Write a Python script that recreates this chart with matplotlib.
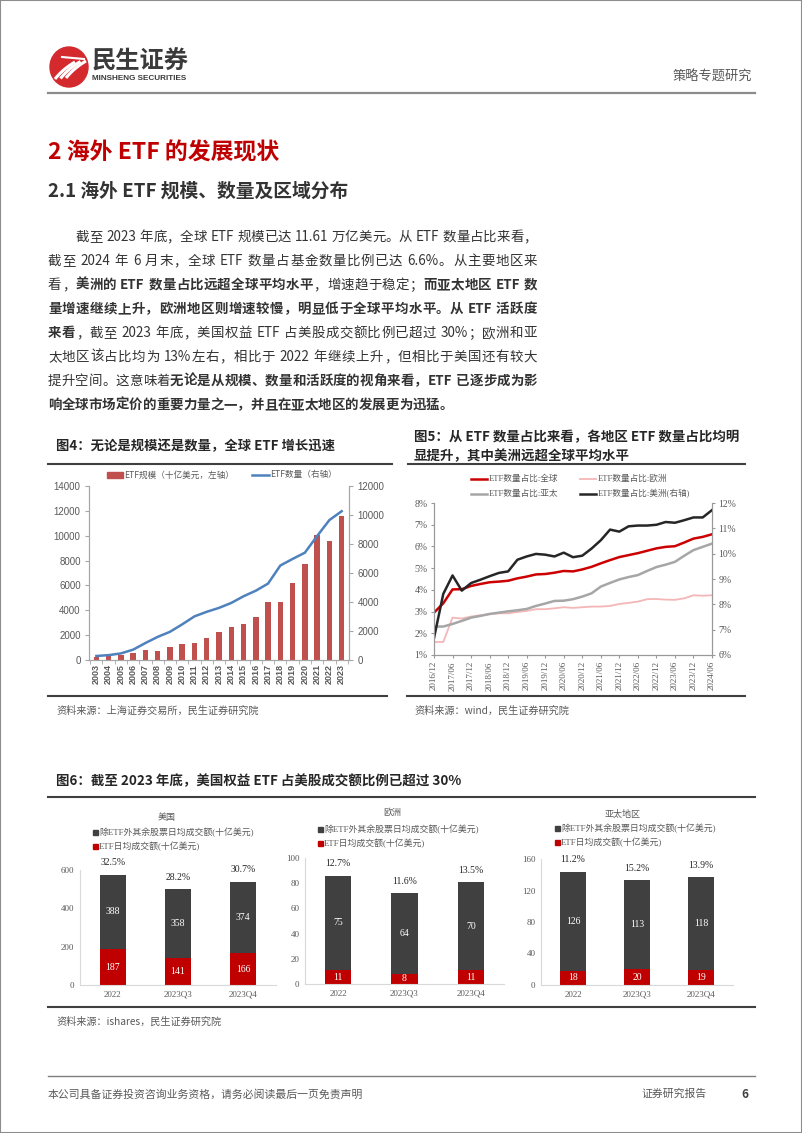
import re
import matplotlib
matplotlib.use('Agg')
import numpy as np
import matplotlib.pyplot as plt
from matplotlib.patches import Ellipse, Rectangle
from matplotlib.lines import Line2D

plt.rcParams['font.family'] = ['Noto Sans CJK SC', 'DejaVu Sans']
SERIF = ['Liberation Serif', 'Noto Sans CJK SC']
SANS = ['Liberation Sans', 'Noto Sans CJK SC']

# ---------------- data ----------------
# fig 4: global ETF size (bn USD, left) and count (right)
years4 = ['2003', '2004', '2005', '2006', '2007', '2008', '2009', '2010', '2011', '2012', '2013',
          '2014', '2015', '2016', '2017', '2018', '2019', '2020', '2021', '2022', '2023']
etf_aum = [212, 310, 417, 580, 807, 716, 1041, 1313, 1355, 1754, 2254,
           2642, 2867, 3423, 4690, 4680, 6180, 7740, 10020, 9540, 11610]
etf_count = [276, 336, 453, 714, 1171, 1595, 1944, 2459, 3009, 3325, 3594,
             3936, 4396, 4779, 5271, 6516, 6970, 7400, 8550, 9650, 10260]

# fig 5: share of ETF in fund count, quarterly 2016/12 - 2024/06
q_labels = ['2016/12', '2017/06', '2017/12', '2018/06', '2018/12', '2019/06', '2019/12', '2020/06',
            '2020/12', '2021/06', '2021/12', '2022/06', '2022/12', '2023/06', '2023/12', '2024/06']
share_global = [2.95, 3.38, 4.02, 4.03, 4.18, 4.27, 4.35, 4.38, 4.42, 4.53, 4.61, 4.71, 4.73, 4.79,
                4.87, 4.85, 4.94, 5.06, 5.22, 5.37, 5.51, 5.60, 5.69, 5.80, 5.91, 5.98, 6.01, 6.18,
                6.36, 6.44, 6.56]
share_europe = [1.60, 1.60, 2.72, 2.68, 2.77, 2.83, 2.88, 2.92, 2.92, 2.98, 3.03, 3.11, 3.11, 3.15,
                3.20, 3.17, 3.20, 3.23, 3.23, 3.26, 3.35, 3.40, 3.46, 3.57, 3.58, 3.55, 3.54, 3.61,
                3.75, 3.73, 3.75]
share_apac = [2.31, 2.31, 2.43, 2.57, 2.72, 2.80, 2.89, 2.95, 3.01, 3.06, 3.12, 3.26, 3.37, 3.49,
              3.50, 3.57, 3.69, 3.84, 4.15, 4.32, 4.48, 4.59, 4.68, 4.87, 5.05, 5.16, 5.29, 5.57,
              5.83, 5.98, 6.13]
share_america = [6.67, 8.41, 9.14, 8.54, 8.84, 8.97, 9.11, 9.24, 9.30, 9.76, 9.89, 9.99, 9.96, 9.89,
                 10.04, 9.86, 9.92, 10.20, 10.53, 10.95, 10.87, 11.08, 11.11, 11.11, 11.14, 11.25,
                 11.22, 11.32, 11.43, 11.43, 11.72]

# fig 6: daily turnover (bn USD)
periods6 = ['2022', '2023Q3', '2023Q4']
us_etf, us_other, us_pct = [187, 141, 166], [388, 358, 374], ['32.5%', '28.2%', '30.7%']
eu_etf, eu_other, eu_pct = [11, 8, 11], [75, 64, 70], ['12.7%', '11.6%', '13.5%']
ap_etf, ap_other, ap_pct = [18, 20, 19], [126, 113, 118], ['11.2%', '15.2%', '13.9%']

body_lines = [
    [('截至 2023 年底，全球 ETF 规模已达 11.61 万亿美元。从 ETF 数量占比来看，', False)],
    [('截至 2024 年 6 月末，全球 ETF 数量占基金数量比例已达 6.6%。从主要地区来', False)],
    [('看，', False), ('美洲的 ETF 数量占比远超全球平均水平', True), ('，增速趋于稳定；', False),
     ('而亚太地区 ETF 数', True)],
    [('量增速继续上升，欧洲地区则增速较慢，明显低于全球平均水平。从 ETF 活跃度', True)],
    [('来看', True), ('，截至 2023 年底，美国权益 ETF 占美股成交额比例已超过 30%；欧洲和亚', False)],
    [('太地区该占比均为 13%左右，相比于 2022 年继续上升，但相比于美国还有较大', False)],
    [('提升空间。这意味着', False), ('无论是从规模、数量和活跃度的视角来看，ETF 已逐步成为影', True)],
    [('响全球市场定价的重要力量之一，并且在亚太地区的发展更为迅猛。', True)],
]

# ---------------- page ----------------
W, H = 802, 1133
fig = plt.figure(figsize=(W / 100, H / 100), dpi=100)
fig.patch.set_facecolor('white')
R = fig.canvas.get_renderer()

DARK = '#333333'
GREY = '#595959'
RED = '#C00000'


def fx(x):
    return x / W


def fy(y):
    return 1 - y / H


def text(x, y, s, size, **kw):
    kw.setdefault('va', 'center')
    return fig.text(fx(x), fy(y), s, fontsize=size, **kw)


def hline(x0, x1, y, color='#404040', lw=1.2):
    fig.add_artist(Line2D([fx(x0), fx(x1)], [fy(y), fy(y)], color=color, lw=lw))


def add_ax(x0, y0, x1, y1):
    return fig.add_axes([fx(x0), fy(y1), (x1 - x0) / W, (y1 - y0) / H])


def draw_runs(x, y, runs, size, color, right=None):
    items = []
    for s, b in runs:
        for tk in re.findall(r'[A-Za-z0-9.%]+| |.', s):
            items.append((tk, b))
    arts, ws = [], []
    for tk, b in items:
        if tk == ' ':
            arts.append(None)
            ws.append(size / 0.72 * 0.25)
            continue
        t = fig.text(0, 0, tk, fontsize=size, color=color, va='center',
                     fontweight='bold' if b else 'normal')
        arts.append(t)
        ws.append(t.get_window_extent(R).width)
    gap = 0
    if right is not None and len(items) > 1:
        gap = (right - x - sum(ws)) / (len(items) - 1)
    cx = x
    for a, w in zip(arts, ws):
        if a is not None:
            a.set_position((fx(cx), fy(y)))
        cx += w + gap
    return sum(ws)


# page frame
fig.add_artist(Rectangle((0, 0), 1, 1, transform=fig.transFigure, fill=False,
                         edgecolor='#8c8c8c', lw=1.5))

# logo
axl = add_ax(48, 46, 90, 88)
axl.set_xlim(0, 42)
axl.set_ylim(0, 42)
axl.axis('off')
axl.add_patch(Ellipse((21, 21), 38, 40, color='#D42A2E'))
for k in range(3):
    t = np.linspace(0, 1, 30)
    xs = 7 + 5.5 * k + t * 16 + t ** 2 * 4
    ys = 9 + t * 20 - t ** 2 * 3 + k * 0.5
    axl.plot(xs, ys, color='white', lw=2.2, solid_capstyle='butt')
axl.plot([14, 36], [31, 29], color='white', lw=1.5)
text(92, 62, '民生证券', 17.5, fontweight='bold', color='#3a3a3a')
text(92, 79, 'MINSHENG SECURITIES', 5.9, fontweight='bold', color='#3a3a3a', family=SANS)
text(752, 77, '策略专题研究', 9.5, ha='right', color=GREY)
hline(48, 755, 93, color='#8c8c8c', lw=1.6)

# headings
text(48, 153, '2 海外 ETF 的发展现状', 16.5, fontweight='bold', color=RED)
text(48, 191, '2.1 海外 ETF 规模、数量及区域分布', 13.5, fontweight='bold', color=DARK)

# body paragraph
BODY = 9.7
starts = [76] + [48] * 7
nat = []
for i, runs in enumerate(body_lines):
    tmp = draw_runs(-2000, -2000, runs, BODY, DARK)
    nat.append(starts[i] + tmp)
for t in list(fig.texts):
    if t.get_position()[0] < -1:
        t.remove()
right_edge = max(nat[:7])
for i, runs in enumerate(body_lines):
    draw_runs(starts[i], 237 + 24 * i, runs, BODY, DARK,
              right=right_edge if i < 7 else None)

# ---------------- figure 4 ----------------
text(56, 446, '图4：无论是规模还是数量，全球 ETF 增长迅速', 9.6, fontweight='bold', color='#262626')
hline(48, 392, 464, lw=1.5)
ax4 = add_ax(89, 486, 349, 660)
x4 = np.arange(len(years4))
ax4.bar(x4, etf_aum, width=0.45, color='#C0504D')
ax4.set_xlim(-0.6, len(years4) - 0.4)
ax4.set_ylim(0, 14000)
ax4.set_yticks(np.arange(0, 14001, 2000))
ax4.set_xticks(x4)
ax4.set_xticklabels(years4, rotation=90, family=SANS, fontsize=6.5, fontweight='bold', color=GREY)
ax4.set_xticks(np.arange(-0.5, len(years4), 1), minor=True)
ax4.tick_params(axis='x', which='major', length=0, pad=3)
ax4.tick_params(axis='x', which='minor', length=3, color='#a6a6a6')
ax4.tick_params(axis='y', length=3, color='#a6a6a6', labelsize=7, labelcolor=GREY, pad=3)
for lb in ax4.get_yticklabels():
    lb.set_family(SANS)
ax4.spines['top'].set_visible(False)
for s in ['left', 'right', 'bottom']:
    ax4.spines[s].set_color('#a6a6a6')
ax4b = ax4.twinx()
ax4b.plot(x4, etf_count, color='#4F81BD', lw=1.8)
ax4b.set_ylim(0, 12000)
ax4b.set_yticks(np.arange(0, 12001, 2000))
ax4b.tick_params(axis='y', length=3, color='#a6a6a6', labelsize=7, labelcolor=GREY, pad=3)
for lb in ax4b.get_yticklabels():
    lb.set_family(SANS)
ax4b.spines['top'].set_visible(False)
for s in ['left', 'right', 'bottom']:
    ax4b.spines[s].set_color('#a6a6a6')
fig.add_artist(Rectangle((fx(107), fy(478)), 16 / W, 6 / H, transform=fig.transFigure,
                         color='#C0504D'))
text(124, 475, 'ETF规模（十亿美元，左轴）', 6.2, color=GREY)
hline(252, 269, 475, color='#4F81BD', lw=1.8)
text(270, 475, 'ETF数量（右轴）', 6.2, color=GREY)
hline(48, 387, 696, lw=1.5)
text(56, 711, '资料来源：上海证券交易所，民生证券研究院', 7.3, color=GREY)

# ---------------- figure 5 ----------------
text(414, 437, '图5：从 ETF 数量占比来看，各地区 ETF 数量占比均明', 9.7, fontweight='bold', color='#262626')
text(414, 456, '显提升，其中美洲远超全球平均水平', 9.7, fontweight='bold', color='#262626')
hline(408, 745, 464, lw=1.5)
ax5 = add_ax(434, 503, 712, 655)
x5 = np.arange(len(share_global))
ax5.plot(x5, share_europe, color='#F4B6B6', lw=1.3)
ax5.plot(x5, share_apac, color='#A6A6A6', lw=1.8)
ax5.plot(x5, share_global, color='#CC0000', lw=1.8)
ax5.set_xlim(0, len(share_global) - 1)
ax5.set_ylim(1, 8)
ax5.set_yticks(range(1, 9))
ax5.set_yticklabels([f'{v}%' for v in range(1, 9)], family=SERIF, fontsize=7, color=GREY)
ax5.set_xticks(x5[::2])
ax5.set_xticklabels(q_labels, rotation=90, family=SERIF, fontsize=6.5, color=GREY)
ax5.tick_params(length=2.5, color='#999999', pad=2)
ax5.spines['top'].set_visible(False)
for s in ['left', 'right', 'bottom']:
    ax5.spines[s].set_color('#999999')
ax5b = ax5.twinx()
ax5b.plot(x5, share_america, color='#262626', lw=1.8)
ax5b.set_ylim(6, 12)
ax5b.set_yticks(range(6, 13))
ax5b.set_yticklabels([f'{v}%' for v in range(6, 13)], family=SERIF, fontsize=7, color=GREY)
ax5b.tick_params(length=2.5, color='#999999', pad=2)
ax5b.spines['top'].set_visible(False)
for s in ['left', 'right', 'bottom']:
    ax5b.spines[s].set_color('#999999')
leg5 = [(471, 479, '#CC0000', 1.8, 'ETF数量占比:全球'), (580, 479, '#F4B6B6', 1.3, 'ETF数量占比:欧洲'),
        (471, 494, '#A6A6A6', 1.8, 'ETF数量占比:亚太'), (580, 494, '#262626', 1.8, 'ETF数量占比:美洲(右轴)')]
for lx, ly, c, lw, lab in leg5:
    hline(lx, lx + 16, ly, color=c, lw=lw)
    text(lx + 18, ly, lab, 6.2, color=GREY, family=SERIF)
hline(407, 745, 696, lw=1.5)
text(414, 711, '资料来源：wind，民生证券研究院', 7.3, color=GREY)

# ---------------- figure 6 ----------------
text(56, 781, '图6：截至 2023 年底，美国权益 ETF 占美股成交额比例已超过 30%', 9.7, fontweight='bold',
     color='#262626')
hline(48, 755, 797, lw=1.5)
panels = [
    ('美国', us_etf, us_other, us_pct, [0, 200, 400, 600], (80, 870, 276, 985), 167, 818, 93, 832),
    ('欧洲', eu_etf, eu_other, eu_pct, [0, 20, 40, 60, 80, 100], (305, 858, 504, 984), 392, 813, 318, 829),
    ('亚太地区', ap_etf, ap_other, ap_pct, [0, 40, 80, 120, 160], (541, 859, 733, 985), 623, 815, 555, 828),
]
for name, etf, other, pct, yt, box, tx, ty, lx, ly in panels:
    ax = add_ax(*box)
    xx = np.arange(len(periods6))
    ax.bar(xx, etf, width=0.4, color=RED)
    ax.bar(xx, other, width=0.4, bottom=etf, color='#404040')
    ax.set_xlim(-0.5, 2.5)
    ax.set_ylim(0, yt[-1])
    ax.set_yticks(yt)
    ax.set_yticklabels([str(v) for v in yt], family=SERIF, fontsize=6.5, color=GREY)
    ax.set_xticks(xx)
    ax.set_xticklabels(periods6, family=SERIF, fontsize=6.5, color=GREY)
    ax.tick_params(length=0, pad=4)
    for s in ['top', 'right']:
        ax.spines[s].set_visible(False)
    for s in ['left', 'bottom']:
        ax.spines[s].set_color('#d9d9d9')
    for i in range(len(periods6)):
        ax.text(i, etf[i] / 2, str(etf[i]), ha='center', va='center', color='white',
                family=SERIF, fontsize=7)
        ax.text(i, etf[i] + other[i] / 2, str(other[i]), ha='center', va='center', color='white',
                family=SERIF, fontsize=7)
        ax.annotate(pct[i], (i, etf[i] + other[i]), xytext=(0, 8.5), textcoords='offset points',
                    ha='center', va='center', family=SERIF, fontsize=7, color='#262626',
                    annotation_clip=False)
    text(tx, ty, name, 6.5, ha='center', color=GREY, family=SERIF)
    fig.add_artist(Rectangle((fx(lx), fy(ly + 2.5)), 5 / W, 5 / H, transform=fig.transFigure,
                             color='#404040'))
    text(lx + 6, ly, '除ETF外其余股票日均成交额(十亿美元)', 6.4, color=GREY, family=SERIF)
    fig.add_artist(Rectangle((fx(lx), fy(ly + 16.5)), 5 / W, 5 / H, transform=fig.transFigure,
                             color=RED))
    text(lx + 6, ly + 14, 'ETF日均成交额(十亿美元)', 6.4, color=GREY, family=SERIF)
hline(48, 755, 1007, lw=1.5)
text(56, 1022, '资料来源：ishares，民生证券研究院', 7.3, color=GREY)

# footer
hline(48, 755, 1076, color='#7f7f7f', lw=1.0)
text(48, 1094, '本公司具备证券投资咨询业务资格，请务必阅读最后一页免责声明', 7.8, color=GREY)
text(641, 1094, '证券研究报告', 7.8, color=GREY)
text(745, 1094, '6', 8.5, ha='center', fontweight='bold', color='#404040')

fig.savefig('out.png', dpi=100)
